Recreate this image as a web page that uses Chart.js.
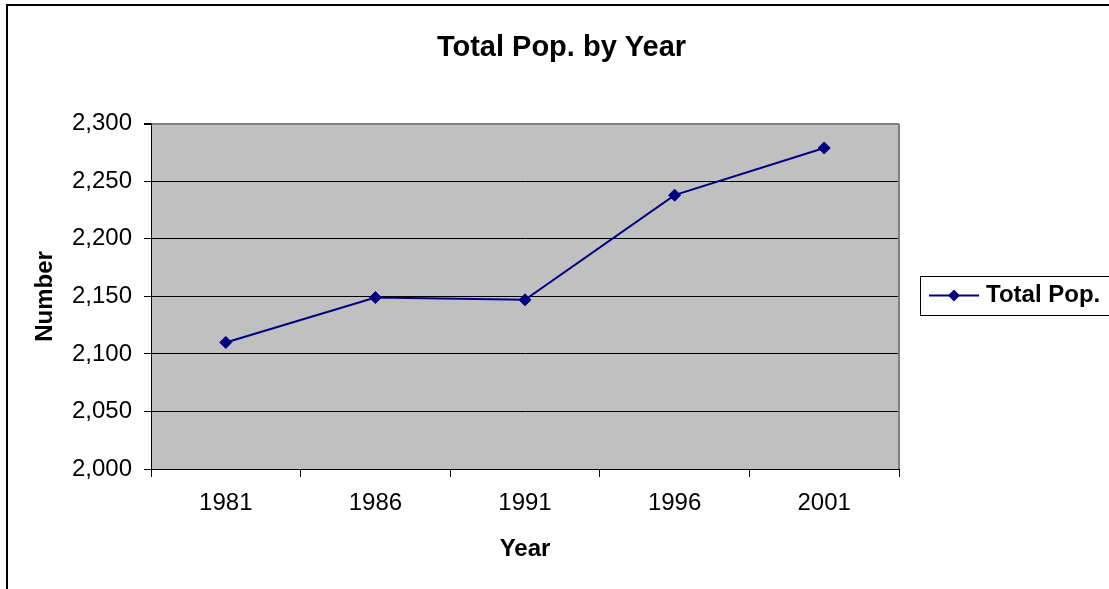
<!DOCTYPE html>
<html>
<head>
<meta charset="utf-8">
<title>Total Pop. by Year</title>
<script src="https://cdn.jsdelivr.net/npm/chart.js@4.4.1/dist/chart.umd.min.js"></script>
<style>
  html, body { margin: 0; padding: 0; background: #fff; overflow: hidden; }
  #wrap { position: relative; width: 1109px; height: 589px; overflow: hidden; }
  canvas { display: block; }
</style>
</head>
<body>
<div id="wrap"><canvas id="chartPop" width="1123" height="589"></canvas></div>
<script>
// données
const annees   = ['1981', '1986', '1991', '1996', '2001'];
const totalPop = [2110, 2149, 2147, 2238, 2279];
const yMin = 2000;
const yMax = 2300;
const yPas = 50;

const NAVY = '#000080';
Chart.defaults.font.family = "'Liberation Sans', Arial, sans-serif";
Chart.defaults.color = '#000';

// fond gris de la zone de tracé + cadre extérieur
const fondGraphe = {
  id: 'fondGraphe',
  beforeDraw(chart) {
    const { ctx, chartArea: a } = chart;
    ctx.save();
    ctx.fillStyle = '#C0C0C0';
    ctx.fillRect(a.left, a.top, a.right - a.left, a.bottom - a.top);
    ctx.strokeStyle = '#000';
    ctx.lineWidth = 2;
    ctx.strokeRect(7, 5, 1400, 800);
    ctx.restore();
  },
  beforeDatasetsDraw(chart) {
    const { ctx, chartArea: a } = chart;
    ctx.save();
    ctx.strokeStyle = '#808080';
    ctx.lineWidth = 2;
    ctx.beginPath();
    ctx.moveTo(Math.round(a.right), a.top);
    ctx.lineTo(Math.round(a.right), a.bottom);
    ctx.stroke();
    ctx.restore();
  },
};

// légende à droite, façon Excel (boîte coupée par le bord)
const legendeExcel = {
  id: 'legendeExcel',
  afterDraw(chart) {
    const { ctx } = chart;
    const ds = chart.data.datasets[0];
    const yMid = 295.5;
    ctx.save();
    ctx.strokeStyle = '#000';
    ctx.lineWidth = 1;
    ctx.strokeRect(920.5, 276.5, 220, 39);

    ctx.strokeStyle = ds.borderColor;
    ctx.lineWidth = 2;
    ctx.beginPath();
    ctx.moveTo(929, yMid);
    ctx.lineTo(979, yMid);
    ctx.stroke();

    const r = 4.5;
    ctx.fillStyle = ds.backgroundColor;
    ctx.beginPath();
    ctx.moveTo(954 - r, yMid);
    ctx.lineTo(954, yMid - r);
    ctx.lineTo(954 + r, yMid);
    ctx.lineTo(954, yMid + r);
    ctx.closePath();
    ctx.fill();
    ctx.stroke();

    ctx.fillStyle = '#000';
    ctx.font = "bold 24px 'Liberation Sans', Arial, sans-serif";
    ctx.textBaseline = 'middle';
    ctx.textAlign = 'left';
    ctx.fillText(ds.label, 986, 295);
    ctx.restore();
  },
};

new Chart(document.getElementById('chartPop'), {
  type: 'line',
  data: {
    labels: annees,
    datasets: [{
      label: 'Total Pop.',
      data: totalPop,
      borderColor: NAVY,
      backgroundColor: NAVY,
      borderWidth: 2,
      pointStyle: 'rectRot',
      pointRadius: 6,
      pointBorderWidth: 1,
      pointBackgroundColor: NAVY,
      pointBorderColor: NAVY,
      tension: 0,
    }],
  },
  options: {
    responsive: false,
    animation: false,
    layout: { padding: 0 },
    plugins: {
      legend: { display: false },
      tooltip: { enabled: false },
      title: {
        display: true,
        text: 'Total Pop. by Year',
        color: '#000',
        font: { size: 29, weight: 'bold' },
        padding: { top: 31, bottom: 58 },
      },
    },
    scales: {
      x: {
        offset: true,
        grid: { offset: true, drawOnChartArea: false, tickLength: 8, color: '#000' },
        border: { color: '#000' },
        ticks: { font: { size: 24 }, color: '#000', padding: 12, maxRotation: 0, autoSkip: false },
        title: {
          display: true,
          text: 'Year',
          color: '#000',
          font: { size: 24, weight: 'bold' },
          padding: { top: 0, bottom: 25 },
        },
        afterFit: s => { s.height = 120; },
      },
      y: {
        min: yMin,
        max: yMax,
        grid: {
          color: c => (c.tick && c.tick.value === yMax ? '#808080' : '#000'),
          lineWidth: c => (c.tick && c.tick.value === yMax ? 2 : 1),
          tickColor: '#000',
          tickLength: 7,
        },
        border: { color: '#000' },
        ticks: {
          stepSize: yPas,
          font: { size: 24 },
          color: '#000',
          padding: 12,
          callback: v => v.toLocaleString('en-US'),
        },
        title: {
          display: true,
          text: 'Number',
          color: '#000',
          font: { size: 24, weight: 'bold' },
          padding: { top: 31, bottom: 0 },
        },
        afterFit: s => { s.width = 151; },
      },
      // axe vide, sert juste à réserver la place de la légende à droite
      marge: {
        type: 'linear',
        position: 'right',
        grid: { display: false },
        border: { display: false },
        ticks: { display: false },
        afterFit: s => { s.width = 224; },
      },
    },
  },
  plugins: [fondGraphe, legendeExcel],
});
</script>
</body>
</html>
